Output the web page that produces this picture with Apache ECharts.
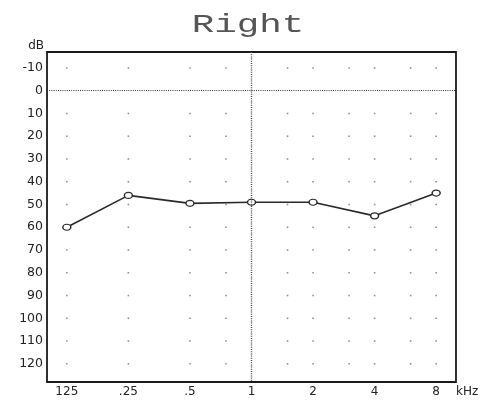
<!DOCTYPE html>
<html>
<head>
<meta charset="utf-8">
<script src="https://cdn.jsdelivr.net/npm/echarts@6/dist/echarts.min.js"></script>
<style>html,body{margin:0;padding:0;background:#fff;}#c{width:493px;height:405px;}</style>
</head>
<body>
<div id="c"></div>
<script>
// Data
var freqs = [125, 250, 500, 1000, 2000, 4000, 8000];           // Hz
var thresholds = [60, 46, 49.5, 49, 49, 55, 45];               // dB HL
var xTickFreqs = [125, 250, 500, 1000, 2000, 4000, 8000];
var xTickLabels = ['125', '.25', '.5', '1', '2', '4', '8'];
var yTicks = [-10, 0, 10, 20, 30, 40, 50, 60, 70, 80, 90, 100, 110, 120];
var gridDotFreqs = [125, 250, 500, 750, 1500, 2000, 3000, 4000, 6000, 8000];
var gridDotLevels = [-10, 10, 20, 30, 40, 50, 60, 70, 80, 90, 100, 110, 120];

function oct(f) { return Math.log2(f / 1000); }

var lineData = freqs.map(function (f, i) { return [oct(f), thresholds[i]]; });
var dotData = [];
gridDotFreqs.forEach(function (f) {
  gridDotLevels.forEach(function (l) { dotData.push([oct(f), l]); });
});
var labelMap = {};
xTickFreqs.forEach(function (f, i) { labelMap[oct(f).toFixed(3)] = xTickLabels[i]; });

var chart = echarts.init(document.getElementById('c'), null, { renderer: 'canvas' });
chart.setOption({
  animation: false,
  backgroundColor: '#fff',
  grid: {
    left: 47, top: 52, width: 409, height: 330,
    show: true, borderColor: '#1a1a1a', borderWidth: 1.8, backgroundColor: 'transparent'
  },
  xAxis: {
    type: 'value',
    min: oct(100), max: oct(10000),
    axisLine: { show: false },
    axisTick: { show: false },
    splitLine: { show: false },
    axisLabel: {
      customValues: xTickFreqs.map(oct),
      margin: 4,
      color: '#222',
      fontFamily: 'DejaVu Sans',
      fontSize: 12,
      formatter: function (v) { return labelMap[v.toFixed(3)] || ''; }
    }
  },
  yAxis: {
    type: 'value',
    inverse: true,
    min: -17, max: 128,
    axisLine: { show: false },
    axisTick: { show: false },
    splitLine: { show: false },
    axisLabel: {
      customValues: yTicks,
      margin: 4,
      color: '#222',
      fontFamily: 'DejaVu Sans',
      fontSize: 12.5
    }
  },
  graphic: [
    { type: 'text', x: 248, y: 25, scaleX: 1.5, silent: true,
      style: { text: 'Right', fill: '#555', font: '25px "Liberation Mono"', textAlign: 'center', textVerticalAlign: 'middle' } },
    { type: 'text', x: 44, y: 46, silent: true,
      style: { text: 'dB', fill: '#222', font: '12px "DejaVu Sans"', textAlign: 'right', textVerticalAlign: 'middle' } },
    { type: 'text', x: 456, y: 392, silent: true,
      style: { text: 'kHz', fill: '#222', font: '12px "DejaVu Sans"', textAlign: 'left', textVerticalAlign: 'middle' } }
  ],
  series: [
    {
      type: 'scatter',
      data: dotData,
      symbol: 'rect',
      symbolSize: 1.6,
      itemStyle: { color: '#777' },
      silent: true,
      z: 1
    },
    {
      type: 'line',
      data: lineData,
      symbol: 'circle',
      symbolSize: [8, 6],
      lineStyle: { color: '#2a2a2a', width: 1.6 },
      itemStyle: { color: '#fff', borderColor: '#2a2a2a', borderWidth: 1.3 },
      z: 3,
      markLine: {
        silent: true,
        symbol: 'none',
        label: { show: false },
        lineStyle: { color: '#333', type: [1, 1.2], width: 1 },
        data: [{ yAxis: 0 }, { xAxis: 0, lineStyle: { width: 1.4, color: '#444' } }]
      }
    }
  ]
});
</script>
</body>
</html>
